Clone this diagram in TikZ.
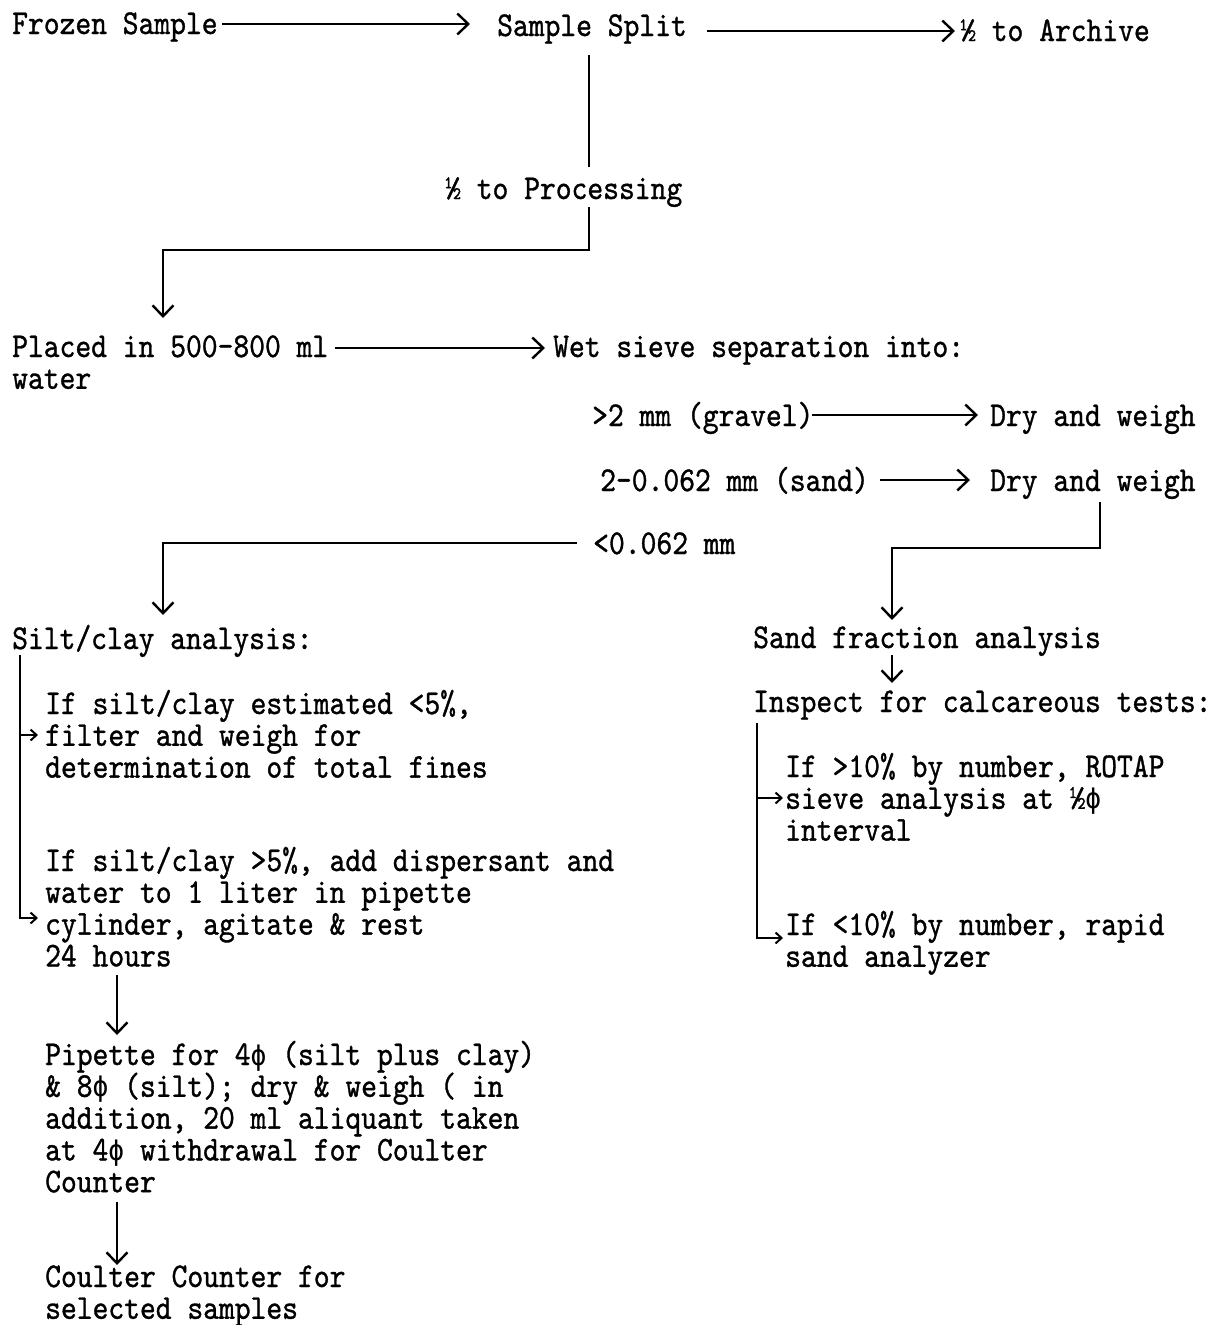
\RequirePackage{fix-cm}
\documentclass[tikz,border=0pt]{standalone}
\usepackage{fontspec}
\usetikzlibrary{arrows.meta}
\newfontfamily\tw{lmmono10-regular.otf}[FakeStretch=0.865,FakeBold=1]
\newfontfamily\phfont{DejaVu Sans Mono}[FakeStretch=0.93]
\newcommand\ph{{\phfont\fontsize{28.2pt}{31.8pt}\selectfont ϕ}}
\newcommand\twfont{\tw\fontsize{34.8pt}{31.8pt}\selectfont\setlength{\lineskiplimit}{-40pt}}
\def\ls{31.8}
\tikzset{
  txt/.style={anchor=base west, inner sep=0pt, align=left, font=\twfont},
  conn/.style={line width=2.4pt},
  arr/.style={conn, -{Straight Barb[length=11pt,width=21pt,line width=2.4pt]}},
  sarr/.style={line width=2pt, -{Straight Barb[length=6pt,width=11pt,line width=2pt]}}
}
\begin{document}
\begin{tikzpicture}[x=1pt,y=-1pt]
\useasboundingbox (0,0) rectangle (1214,1325);
% nodes (multi-line nodes are placed by the baseline of their last line)
\node[txt] (frozen)  at (12,34)  {Frozen Sample};
\node[txt] (split)   at (497,36) {Sample Split};
\node[txt] (archive) at (960,41) {½ to Archive};
\node[txt] (proc)    at (445,199) {½ to Processing};
\node[txt] (placed)  at (12,357+\ls) {Placed in 500-800 ml\\water};
\node[txt] (wet)     at (553,357) {Wet sieve separation into:};
\node[txt] (gravel)  at (592,426) {>2 mm (gravel)};
\node[txt] (dry1)    at (990,426) {Dry and weigh};
\node[txt] (sand)    at (600,491) {2-0.062 mm (sand)};
\node[txt] (dry2)    at (990,491) {Dry and weigh};
\node[txt] (fine)    at (593,554) {<0.062 mm};
\node[txt] (silt)    at (12,649)  {Silt/clay analysis:};
\node[txt] (sandfr)  at (753,648) {Sand fraction analysis};
\node[txt] (inspect) at (753,712) {Inspect for calcareous tests:};
\node[txt] (cond1)   at (45,714+2*\ls) {If silt/clay estimated <5\%,\\filter and weigh for\\determination of total fines};
\node[txt] (cond2)   at (45,871+3*\ls) {If silt/clay >5\%, add dispersant and\\water to 1 liter in pipette\\cylinder, agitate \& rest\\24 hours};
\node[txt] (pipette) at (45,1065+4*\ls) {Pipette for 4\ph{} (silt plus clay)\\\& 8\ph{} (silt); dry \& weigh ( in\\addition, 20 ml aliquant taken\\at 4\ph{} withdrawal for Coulter\\Counter};
\node[txt] (coulter) at (45,1287+\ls) {Coulter Counter for\\selected samples};
\node[txt] (rule1)   at (785,777+2*\ls) {If >10\% by number, ROTAP\\sieve analysis at ½\ph\\interval};
\node[txt] (rule2)   at (785,935+\ls) {If <10\% by number, rapid\\sand analyzer};
% connectors
\draw[arr] ([shift={(210,-10)}]frozen.base west) -- ([shift={(-27,-12)}]split.base west);
\draw[arr] ([shift={(210,-5)}]split.base west) -- ([shift={(-5,-10)}]archive.base west);
\draw[conn] ([shift={(92,19)}]split.base west) -- ([shift={(144,-32)}]proc.base west);
\draw[arr] ([shift={(144,8)}]proc.base west) -- ++(0,43) -| ([shift={(151,-39-\ls)}]placed.base west);
\draw[arr] ([shift={(323,-9-\ls)}]placed.base west) -- ([shift={(-8,-9)}]wet.base west);
\draw[arr] ([shift={(220,-11)}]gravel.base west) -- ([shift={(-12,-11)}]dry1.base west);
\draw[arr] ([shift={(280,-11)}]sand.base west) -- ([shift={(-20,-11)}]dry2.base west);
\draw[arr] ([shift={(110,11)}]dry2.base west) -- ++(0,46) -| ([shift={(139,-28)}]sandfr.base west);
\draw[arr] ([shift={(-16,-11)}]fine.base west) -| ([shift={(151,-34)}]silt.base west);
\draw[arr] ([shift={(139,7)}]sandfr.base west) -- ([shift={(139,-29)}]inspect.base west);
\draw[sarr] ([shift={(8,6)}]silt.base west) |- ([shift={(-7,47-3*\ls)}]cond2.base west);
\draw[sarr] ([shift={(-25,21-2*\ls)}]cond1.base west) -- ([shift={(-7,21-2*\ls)}]cond1.base west);
\draw[arr] ([shift={(72,104-3*\ls)}]cond2.base west) -- ([shift={(72,-30-4*\ls)}]pipette.base west);
\draw[arr] ([shift={(72,137-4*\ls)}]pipette.base west) -- ([shift={(72,-22-\ls)}]coulter.base west);
\draw[sarr] ([shift={(4,11)}]inspect.base west) |- ([shift={(-2,3-\ls)}]rule2.base west);
\draw[sarr] ([shift={(-28,21-2*\ls)}]rule1.base west) -- ([shift={(-2,21-2*\ls)}]rule1.base west);
\end{tikzpicture}
\end{document}
